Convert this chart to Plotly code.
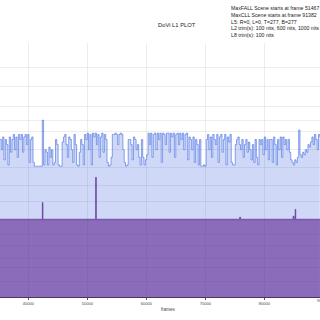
import plotly.graph_objects as go

# ---- data (PQ-coded values) ----
FRAME_START = 35200
FRAME_STEP = 224
max_pq = [
    0.62,0.58,0.63,0.54,0.62,0.60,0.52,0.63,0.57,0.62,0.64,0.58,0.63,0.55,0.64,0.62,0.64,0.57,0.63,0.64,0.60,0.64,0.53,0.62,0.63,
    0.53,0.515,0.515,0.515,0.515,0.515,0.515,
    0.696,
    0.52,0.58,0.57,0.52,0.59,0.55,0.58,0.52,0.53,0.62,0.60,0.52,0.515,0.515,
    0.61,0.63,0.64,0.60,0.55,0.63,0.62,0.58,0.53,0.64,0.60,0.52,0.515,0.57,0.62,0.60,0.52,
    0.64,0.62,0.645,0.58,0.64,0.52,0.645,0.63,0.645,0.60,0.64,0.55,0.63,0.645,0.57,0.64,0.62,
    0.53,0.515,0.52,0.55,
    0.64,0.64,0.645,0.64,0.60,0.64,0.645,0.64,0.58,
    0.53,0.515,0.52,0.62,0.62,0.60,0.54,0.63,0.62,0.58,0.60,0.55,0.52,0.62,
    0.55,0.52,0.54,0.56,
    0.645,0.60,0.645,0.55,0.64,0.645,0.58,0.645,0.62,0.645,0.53,0.645,0.64,0.60,0.645,0.645,0.57,0.645,0.63,0.645,0.55,0.64,0.645,0.60,0.645,0.62,0.645,0.58,0.64,0.645,0.54,0.63,
    0.62,0.58,0.63,0.53,0.62,0.60,0.52,0.62,
    0.515,0.515,0.52,0.515,
    0.62,0.64,0.58,0.63,0.55,0.64,0.62,0.60,0.64,0.53,0.63,0.64,0.57,0.62,0.64,0.52,0.63,0.61,0.64,
    0.53,0.52,0.52,0.60,0.62,0.63,
    0.60,0.58,0.62,0.55,0.60,0.62,0.57,0.61,0.58,
    0.54,0.60,0.53,0.62,0.55,0.52,
    0.62,0.60,0.62,0.56,0.63,0.58,0.62,0.54,0.62,
    0.62,0.53,0.63,0.60,0.52,0.62,0.58,0.63,0.55,
    0.63,0.60,0.62,0.58,0.62,0.57,
    0.54,0.53,0.52,0.54,0.53,0.55,
    0.657,
    0.56,0.55,0.57,0.56,
    0.58,0.57,0.60,0.59,0.61,
    0.63,0.60,0.64,0.62,0.58,0.64,0.63,
]
max_frames = [FRAME_START + FRAME_STEP * i for i in range(len(max_pq))]

avg_frames = [35200, 42380, 42480, 51420, 51520, 75820, 75990, 84880, 85050, 85230, 85330, 89600]
avg_pq = [0.306, 0.372, 0.306, 0.471, 0.306, 0.314, 0.306, 0.318, 0.306, 0.345, 0.306, 0.306]

tick_nits = [0.1, 0.5, 1, 2.5, 5, 10, 25, 50, 100, 200, 400, 600, 1000, 2000, 4000, 10000]
x_ticks = [40000, 50000, 60000, 70000, 80000, 90000]

info_lines = [
    "MaxFALL Scene starts at frame 51467",
    "MaxCLL Scene starts at frame 91382",
    "L5: R=0, L=0, T=277, B=277",
    "L2 trim(s): 100 nits, 600 nits, 1000 nits",
    "L8 trim(s): 100 nits",
]
title_text = "DoVi L1 PLOT"
x_title = "frames"


def nits_to_pq(n):
    m1, m2 = 2610 / 16384, 2523 / 4096 * 128
    c1, c2, c3 = 3424 / 4096, 2413 / 4096 * 32, 2392 / 4096 * 32
    y = (n / 10000.0) ** m1
    return ((c1 + c2 * y) / (1 + c3 * y)) ** m2


FONT = "Liberation Sans, Arial, sans-serif"

fig = go.Figure()
fig.add_trace(go.Scatter(
    x=max_frames, y=max_pq, mode="lines", line_shape="hv",
    line=dict(color="rgba(65,105,225,0.85)", width=0.7),
    fill="tozeroy", fillcolor="rgba(65,105,225,0.25)", name="Max",
))
fig.add_trace(go.Scatter(
    x=avg_frames, y=avg_pq, mode="lines", line_shape="hv",
    line=dict(color="rgba(100,50,150,0.9)", width=0.8),
    fill="tozeroy", fillcolor="rgba(94,35,145,0.6)", name="Average",
))

W, H = 320, 320
ML, MR, MT, MB = 0, 0, 43, 23
plot_h = H - MT - MB

def py(pixel_y):
    return (H - MB - pixel_y) / plot_h

fig.update_layout(
    width=W, height=H,
    margin=dict(l=ML, r=MR, t=MT, b=MB),
    paper_bgcolor="white", plot_bgcolor="white",
    showlegend=False,
    font=dict(family=FONT, size=4, color="#444"),
    xaxis=dict(
        range=[35203, 89441], tickvals=x_ticks, ticktext=[str(v) for v in x_ticks],
        showgrid=True, gridcolor="rgba(0,0,0,0.07)", gridwidth=1,
        ticks="outside", ticklen=2, tickcolor="#555", tickfont=dict(size=4, color="#444"),
        showline=True, linecolor="#4a3a5a", linewidth=1, zeroline=False,
    ),
    yaxis=dict(
        range=[0, 1], tickvals=[nits_to_pq(n) for n in tick_nits],
        showticklabels=False, showgrid=True, gridcolor="rgba(0,0,0,0.07)", gridwidth=1,
        zeroline=False, ticks="",
    ),
)

fig.add_annotation(
    text="<br>".join(info_lines), xref="paper", yref="paper",
    x=229 / W, y=py(2.5), xanchor="left", yanchor="top", align="left",
    showarrow=False, font=dict(size=5.2, color="#222", family=FONT),
)
fig.add_annotation(
    text=title_text, xref="paper", yref="paper", x=177 / W, y=py(25),
    xanchor="center", yanchor="middle", showarrow=False,
    font=dict(size=5.8, color="#222", family=FONT),
)
fig.add_annotation(
    text=x_title, xref="paper", yref="paper", x=168 / W, y=py(309),
    xanchor="center", yanchor="middle", showarrow=False,
    font=dict(size=4.5, color="#444", family=FONT),
)
fig.add_annotation(
    text=str(x_ticks[-1]), xref="paper", yref="paper",
    x=(90000 - 35203) / (89441 - 35203), y=py(300),
    xanchor="center", yanchor="middle", showarrow=False,
    font=dict(size=4, color="#444", family=FONT),
)

fig.write_html("out.html")
